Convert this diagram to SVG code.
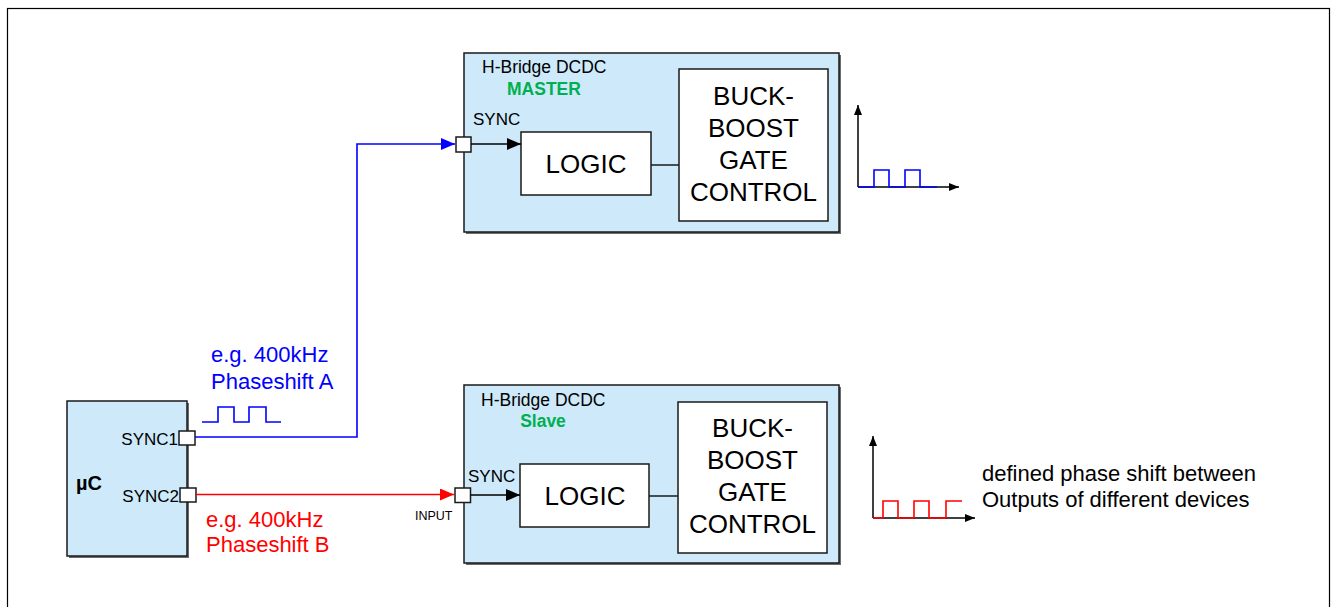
<svg xmlns="http://www.w3.org/2000/svg" width="1332" height="607" viewBox="0 0 1332 607">
<style>
text{font-family:"Liberation Sans",Arial,sans-serif;fill:#000}
.box{fill:#cde9fa;stroke:#1a1a1a;stroke-width:1.5}
.shadow{fill:#6b6b6b}
.inner{fill:#fff;stroke:#1a1a1a;stroke-width:1.5}
.port{fill:#fff;stroke:#1a1a1a;stroke-width:1.5}
.wire{fill:none;stroke-width:1.6}
.big{font-size:26px}
.title{font-size:17.5px}
.green{font-size:17.5px;font-weight:bold;fill:#00b050}
.lbl{font-size:17px}
.ax{fill:none;stroke:#000;stroke-width:1.5}
.bl{font-size:22px;fill:#0000ff}
.rd{font-size:22px;fill:#ff0000}
.note{font-size:22px}
</style>
<defs>
<marker id="ab" markerUnits="userSpaceOnUse" markerWidth="14" markerHeight="12" refX="14" refY="6" orient="auto"><path d="M0,0 L14,6 L0,12 Z" fill="#0000ff"/></marker>
<marker id="ar" markerUnits="userSpaceOnUse" markerWidth="14" markerHeight="12" refX="14" refY="6" orient="auto"><path d="M0,0 L14,6 L0,12 Z" fill="#ff0000"/></marker>
<marker id="ak" markerUnits="userSpaceOnUse" markerWidth="14" markerHeight="12" refX="14" refY="6" orient="auto"><path d="M0,0 L14,6 L0,12 Z" fill="#000"/></marker>
<marker id="ax" markerUnits="userSpaceOnUse" markerWidth="10" markerHeight="8" refX="10" refY="4" orient="auto"><path d="M0,0 L10,4 L0,8 Z" fill="#000"/></marker>
</defs>
<rect x="7.5" y="8.5" width="1322" height="700" fill="none" stroke="#000" stroke-width="1.2"/>

<g id="master">
<rect class="shadow" x="466" y="55" width="375" height="179"/>
<rect class="box" x="464" y="53" width="375" height="179"/>
<text class="title" x="482" y="73">H-Bridge DCDC</text>
<text class="green" x="544" y="95" text-anchor="middle">MASTER</text>
<text class="lbl" x="473" y="125">SYNC</text>
<rect class="inner" x="521" y="132" width="130" height="63"/>
<text class="big" x="586" y="173" text-anchor="middle">LOGIC</text>
<rect class="inner" x="679" y="69" width="149" height="152"/>
<text class="big" x="753.5" y="105" text-anchor="middle">BUCK-</text>
<text class="big" x="753.5" y="137" text-anchor="middle">BOOST</text>
<text class="big" x="753.5" y="169" text-anchor="middle">GATE</text>
<text class="big" x="753.5" y="201" text-anchor="middle">CONTROL</text>
<line x1="651" y1="165" x2="679" y2="165" stroke="#1a1a1a" stroke-width="1.5"/>
<rect class="port" x="456" y="137" width="15" height="15"/>
</g>

<g id="slave">
<rect class="shadow" x="466" y="387" width="375" height="178"/>
<rect class="box" x="464" y="385" width="375" height="178"/>
<text class="title" x="481" y="406">H-Bridge DCDC</text>
<text class="green" x="543" y="427" text-anchor="middle">Slave</text>
<text class="lbl" x="468" y="482">SYNC</text>
<rect class="inner" x="520" y="464" width="129" height="63"/>
<text class="big" x="585" y="505" text-anchor="middle">LOGIC</text>
<rect class="inner" x="678" y="402" width="149" height="151"/>
<text class="big" x="752.5" y="437" text-anchor="middle">BUCK-</text>
<text class="big" x="752.5" y="469" text-anchor="middle">BOOST</text>
<text class="big" x="752.5" y="501" text-anchor="middle">GATE</text>
<text class="big" x="752.5" y="533" text-anchor="middle">CONTROL</text>
<line x1="649" y1="496" x2="678" y2="496" stroke="#1a1a1a" stroke-width="1.5"/>
<rect class="port" x="455" y="488" width="15.5" height="14.5"/>
<text x="415" y="520" font-size="12.5px">INPUT</text>
</g>

<g id="uc">
<rect class="shadow" x="69" y="403" width="120" height="155"/>
<rect class="box" x="67" y="401" width="120" height="155"/>
<text x="76" y="490" font-size="20px" font-weight="bold">µC</text>
<text class="lbl" x="178" y="445" text-anchor="end">SYNC1</text>
<text class="lbl" x="179" y="502" text-anchor="end">SYNC2</text>
<rect class="port" x="179" y="431" width="16" height="14"/>
<rect class="port" x="180" y="488" width="16" height="14"/>
</g>

<g id="connectors">
<polyline class="wire" stroke="#0000ff" points="195,437 357,437 357,144 455,144" marker-end="url(#ab)"/>
<line class="wire" stroke="#ff0000" x1="196" y1="494.5" x2="454" y2="494.5" marker-end="url(#ar)"/>
<line class="wire" stroke="#000" x1="471" y1="144" x2="521" y2="144" marker-end="url(#ak)"/>
<line class="wire" stroke="#000" x1="470.5" y1="495" x2="520" y2="495" marker-end="url(#ak)"/>
</g>

<g id="labels">
<text class="bl" x="211" y="362" style="fill:#0000ff">e.g. 400kHz</text>
<text class="bl" x="211" y="389" style="fill:#0000ff">Phaseshift A</text>
<text class="rd" x="206" y="527" style="fill:#ff0000">e.g. 400kHz</text>
<text class="rd" x="206" y="552" style="fill:#ff0000">Phaseshift B</text>
<polyline fill="none" stroke="#0000ff" stroke-width="1.6" points="202,422 218,422 218,407 234,407 234,422 249,422 249,407 266,407 266,422 281,422"/>
</g>

<g id="graph-master">
<line class="ax" x1="858" y1="187" x2="858" y2="105" marker-end="url(#ax)"/>
<line class="ax" x1="858" y1="187" x2="959" y2="187" marker-end="url(#ax)"/>
<polyline fill="none" stroke="#0000ff" stroke-width="1.6" points="858,187 874,187 874,170 889,170 889,187 905,187 905,170 920,170 920,187 937,187"/>
</g>

<g id="graph-slave">
<line class="ax" x1="873" y1="518" x2="873" y2="436" marker-end="url(#ax)"/>
<line class="ax" x1="873" y1="518" x2="975" y2="518" marker-end="url(#ax)"/>
<polyline fill="none" stroke="#ff0000" stroke-width="1.6" points="873,518 883,518 883,501 898,501 898,518 914,518 914,501 929,501 929,518 946,518 946,501 962,501"/>
<text class="note" x="982" y="481">defined phase shift between</text>
<text class="note" x="982" y="507">Outputs of different devices</text>
</g>
</svg>
